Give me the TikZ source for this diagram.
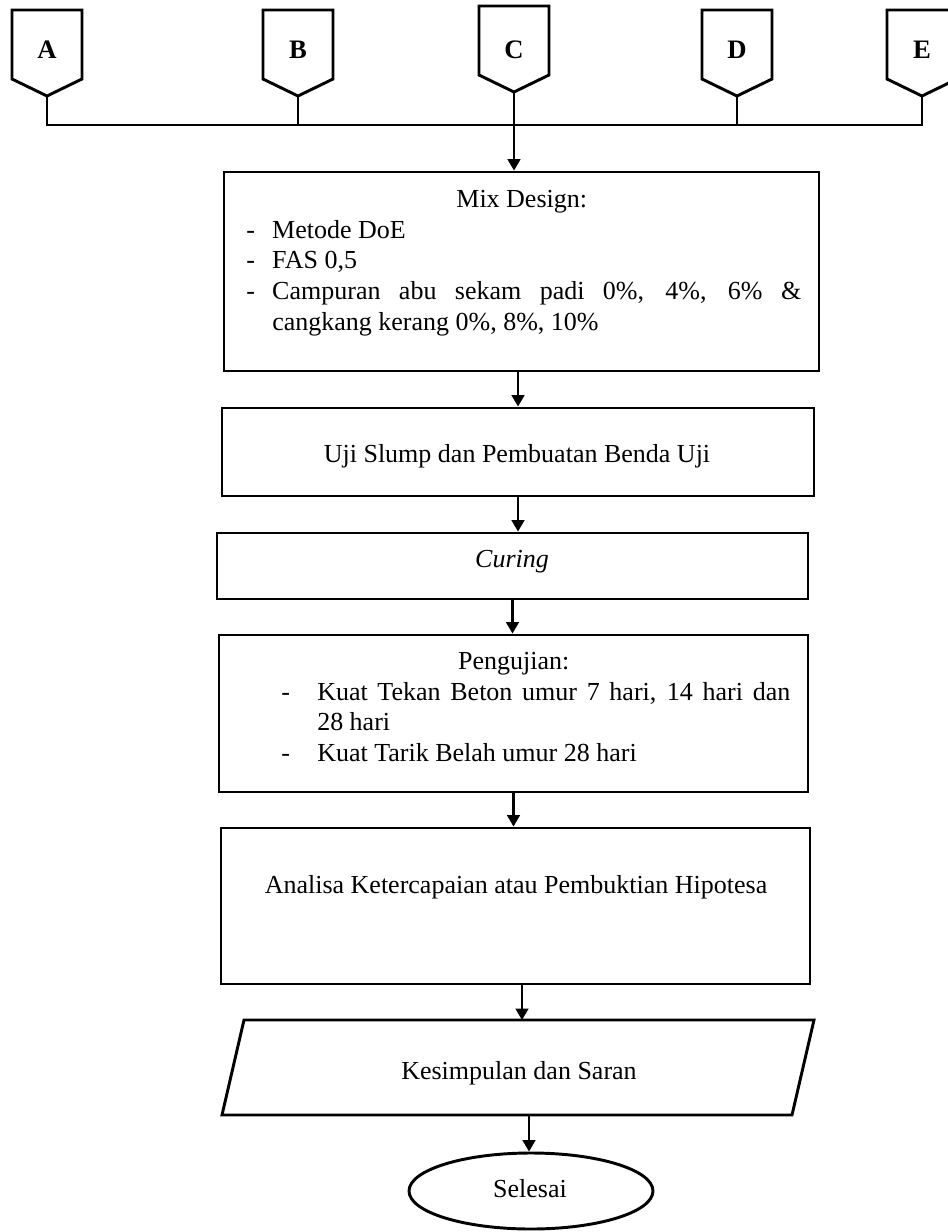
\documentclass[tikz,border=0pt]{standalone}
\usepackage{fontspec}
\setmainfont{Liberation Serif}
\usetikzlibrary{positioning, arrows.meta, shapes.geometric}
\tikzset{
    flowbox/.style={rectangle, draw, line width=2.2pt, inner sep=0pt},
    flowtext/.style={inner sep=0pt, font=\fontsize{19.5}{23}\selectfont},
    listtext/.style={flowtext, align=justify, anchor=north west},
    connector/.style={line width=2.2pt, line join=miter},
    flowarrow/.style={line width=1.6pt, -{Triangle[length=8.5pt, width=9.5pt]}}
}

\begin{document}
\begin{tikzpicture}[x=0.75pt, y=-0.75pt]
\useasboundingbox (0,0) rectangle (947,1232);

% penghubung A - E
\coordinate (bus) at (0,125);
\foreach \lbl/\x/\y in {A/47/10, B/298/10, C/514/6, D/737/10, E/922/10} {
    \draw[connector] (\x-35,\y) -- (\x+35,\y) -- (\x+35,\y+69) -- (\x,\y+86) -- (\x-35,\y+69) -- cycle;
    \node[flowtext, font=\fontsize{20}{23}\selectfont\bfseries, anchor=base] (\lbl) at (\x,58) {\lbl};
    \coordinate (\lbl-tip) at (\x,\y+86);
    \draw[connector] (\lbl-tip) -- (\lbl-tip |- bus);
}
\draw[connector] (A-tip) -- (A-tip |- bus) -- (E-tip |- bus) -- (E-tip);

% mix design
\node[flowbox, minimum width=446.25pt, minimum height=149.25pt] (mix) at (521.5,271.5) {};
\node[listtext, text width=419.25pt] (mixtext) at (242,190) {%
    {\centering Mix Design:\par}
    \leftskip=3pt
    \makebox[19.5pt][l]{-}Metode DoE\par
    \makebox[19.5pt][l]{-}FAS 0,5\par
    \hangindent=19.5pt\hangafter=1
    \makebox[19.5pt][l]{-}Campuran abu sekam padi 0\%, 4\%, 6\% \&\linebreak cangkang kerang 0\%, 8\%, 10\%\par};

\node[flowbox, minimum width=444pt, minimum height=66pt] (slump) at (518,452) {};
\node[flowtext, anchor=base] (slumptext) at (517,462.5) {Uji Slump dan Pembuatan Benda Uji};

\node[flowbox, minimum width=443.25pt, minimum height=49.5pt] (curing) at (512.5,566) {};
\node[flowtext, anchor=base] (curingtext) at (512,567) {\textit{Curing}};

% pengujian
\node[flowbox, minimum width=441.75pt, minimum height=117.75pt] (uji) at (513.5,713.5) {};
\node[listtext, text width=414.75pt] (ujitext) at (237,652) {%
    {\centering Pengujian:\par}
    \leftskip=33pt
    \hangindent=27pt\hangafter=1
    \makebox[27pt][l]{-}Kuat Tekan Beton umur 7 hari, 14 hari dan\linebreak 28 hari\par
    \makebox[27pt][l]{-}Kuat Tarik Belah umur 28 hari\par};

\node[flowbox, minimum width=441.75pt, minimum height=117pt] (analisa) at (515.5,906) {};
\node[flowtext, anchor=base] (analisatext) at (516,893.5) {Analisa Ketercapaian atau Pembuktian Hipotesa};

% kesimpulan (jajar genjang)
\draw[connector] (244,1020) -- (814,1020) -- (792,1115) -- (222,1115) -- cycle;
\coordinate (kes-n) at (522,1020);
\coordinate (kes-s) at (529,1115);
\node[flowtext, anchor=base] (kes) at (519,1079.5) {Kesimpulan dan Saran};

\node[flowbox, ellipse, minimum width=183pt, minimum height=57pt] (selesai) at (531,1191) {};
\node[flowtext, anchor=base] (selesaitext) at (530,1197.5) {Selesai};

% panah
\draw[flowarrow] (C-tip |- bus) -- (C-tip |- mix.north);
\draw[flowarrow] (slump |- mix.south) -- (slump.north);
\draw[flowarrow] (slump.south) -- (slump.south |- curing.north);
\draw[flowarrow] (curing.south) -- (curing.south |- uji.north);
\draw[flowarrow] (uji.south) -- (uji.south |- analisa.north);
\draw[flowarrow] (kes-n |- analisa.south) -- (kes-n);
\draw[flowarrow] (kes-s) -- (kes-s |- selesai.north);
\end{tikzpicture}
\end{document}
